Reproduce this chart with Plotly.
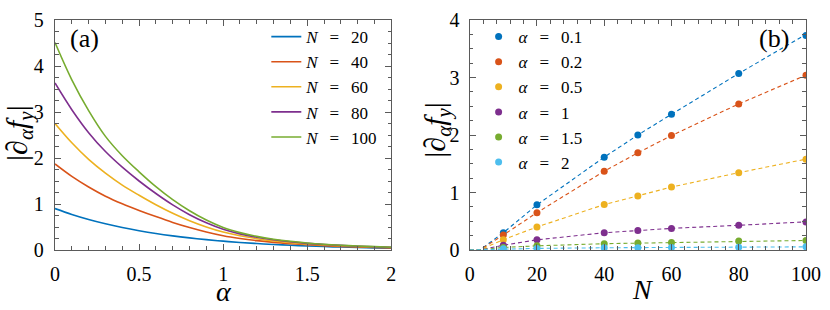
import plotly.graph_objects as go

# ---------------- Panel (a) data ----------------
alpha_grid = [0, 0.1, 0.2, 0.3, 0.4, 0.5, 0.6, 0.7, 0.8, 0.9, 1.0,
              1.1, 1.2, 1.3, 1.4, 1.5, 1.6, 1.7, 1.8, 1.9, 2.0]
N_labels = ["20", "40", "60", "80", "100"]
dfy_N20 = [0.90, 0.773, 0.664, 0.570, 0.49, 0.42, 0.359, 0.307, 0.263, 0.225, 0.192,
           0.164, 0.140, 0.120, 0.103, 0.088, 0.075, 0.064, 0.055, 0.047, 0.040]
dfy_N40 = [1.87, 1.60, 1.37, 1.17, 1.005, 0.86, 0.726, 0.600, 0.489, 0.392, 0.310,
           0.250, 0.203, 0.166, 0.137, 0.113, 0.094, 0.079, 0.066, 0.056, 0.047]
dfy_N60 = [2.75, 2.33, 1.97, 1.67, 1.41, 1.19, 0.984, 0.798, 0.637, 0.501, 0.390,
           0.308, 0.246, 0.198, 0.161, 0.133, 0.110, 0.092, 0.077, 0.065, 0.055]
dfy_N80 = [3.63, 3.05, 2.55, 2.14, 1.80, 1.50, 1.228, 0.981, 0.768, 0.592, 0.450,
           0.350, 0.277, 0.221, 0.178, 0.145, 0.120, 0.100, 0.083, 0.068, 0.056]
dfy_N100 = [4.51, 3.70, 3.03, 2.47, 2.05, 1.70, 1.378, 1.095, 0.853, 0.651, 0.490,
            0.378, 0.296, 0.235, 0.189, 0.153, 0.125, 0.104, 0.087, 0.073, 0.060]

# ---------------- Panel (b) data ----------------
N_points = [10, 20, 40, 50, 60, 80, 100]
alpha_labels = ["0.1", "0.2", "0.5", "1", "1.5", "2"]
dfy_a01 = [0.30, 0.785, 1.615, 2.00, 2.36, 3.07, 3.73]
dfy_a02 = [0.26, 0.65, 1.37, 1.69, 1.99, 2.54, 3.04]
dfy_a05 = [0.18, 0.40, 0.79, 0.94, 1.095, 1.345, 1.577]
dfy_a1 = [0.083, 0.177, 0.30, 0.337, 0.376, 0.43, 0.487]
dfy_a15 = [0.044, 0.072, 0.11, 0.12, 0.13, 0.155, 0.166]
dfy_a2 = [0.020, 0.028, 0.039, 0.041, 0.044, 0.050, 0.055]

fit_N = [0, 3, 10, 20, 40, 50, 60, 80, 100]
fit_a01 = [0, 0, 0.30, 0.785, 1.615, 2.00, 2.36, 3.07, 3.75]
fit_a02 = [0, 0, 0.26, 0.65, 1.37, 1.69, 1.99, 2.54, 3.04]
fit_a05 = [0, 0, 0.18, 0.40, 0.79, 0.94, 1.095, 1.345, 1.58]
fit_a1 = [0, 0, 0.083, 0.177, 0.30, 0.337, 0.376, 0.43, 0.49]
fit_a15 = [0, 0.005, 0.044, 0.072, 0.11, 0.12, 0.13, 0.155, 0.166]
fit_a2 = [0, 0.005, 0.020, 0.028, 0.039, 0.041, 0.044, 0.050, 0.055]

# ticks
xa_tickvals = [0, 0.5, 1, 1.5, 2]
xa_ticktext = ["0", "0.5", "1", "1.5", "2"]
ya_tickvals = [0, 1, 2, 3, 4, 5]
ya_ticktext = ["0", "1", "2", "3", "4", "5"]
xb_tickvals = [0, 20, 40, 60, 80, 100]
xb_ticktext = ["0", "20", "40", "60", "80", "100"]
yb_tickvals = [0, 1, 2, 3, 4]
yb_ticktext = ["0", "1", "2", "3", "4"]

colors = ["#0072BD", "#D95319", "#EDB120", "#7E2F8E", "#77AC30", "#4DBEEE"]
FONT = "Liberation Serif, Times New Roman, Times, DejaVu Serif, serif"
AX = "#5a5a5a"
SP = "\u2002\u2009"

fig = go.Figure()

for lab, ys, c in zip(N_labels, [dfy_N20, dfy_N40, dfy_N60, dfy_N80, dfy_N100], colors):
    fig.add_trace(go.Scatter(
        x=alpha_grid, y=ys, mode="lines", line=dict(color=c, width=1.6, shape="spline"),
        name="<i>N</i>" + SP + "=" + SP + lab, xaxis="x", yaxis="y", legend="legend"))

for lab, ys, fy, c in zip(alpha_labels,
                          [dfy_a01, dfy_a02, dfy_a05, dfy_a1, dfy_a15, dfy_a2],
                          [fit_a01, fit_a02, fit_a05, fit_a1, fit_a15, fit_a2], colors):
    fig.add_trace(go.Scatter(
        x=fit_N, y=fy, mode="lines", line=dict(color=c, width=1.1, dash="4px,3px"),
        showlegend=False, xaxis="x2", yaxis="y2", hoverinfo="skip"))
    fig.add_trace(go.Scatter(
        x=N_points, y=ys, mode="markers", marker=dict(color=c, size=7),
        name="<i>α</i>" + SP + "=" + SP + lab, xaxis="x2", yaxis="y2", legend="legend2"))

axis_common = dict(showline=True, linecolor=AX, linewidth=1.3, mirror="ticks",
                   ticks="inside", ticklen=6, tickwidth=1.1, tickcolor=AX,
                   showgrid=False, zeroline=False, ticklabeloverflow="allow",
                   tickfont=dict(family=FONT, size=20, color="black"))

fig.update_layout(
    width=830, height=310,
    margin=dict(l=55, r=18, t=9, b=60),
    paper_bgcolor="white", plot_bgcolor="white",
    font=dict(family=FONT, color="black"),
    xaxis=dict(domain=[0, 339 / 757], range=[0, 2], tickvals=xa_tickvals, ticktext=xa_ticktext,
               minor=dict(ticks="inside", ticklen=3.5, dtick=0.1, tickcolor=AX, tickwidth=1),
               anchor="y", ticklabelstandoff=6, **axis_common),
    yaxis=dict(domain=[0, 1], range=[0, 5], tickvals=ya_tickvals, ticktext=ya_ticktext,
               minor=dict(ticks="inside", ticklen=3.5, dtick=0.25, tickcolor=AX, tickwidth=1),
               anchor="x", ticklabelstandoff=6, **axis_common),
    xaxis2=dict(domain=[418 / 757, 1], range=[0, 100], tickvals=xb_tickvals, ticktext=xb_ticktext,
                minor=dict(ticks="inside", ticklen=3.5, dtick=4, tickcolor=AX, tickwidth=1),
                anchor="y2", ticklabelstandoff=6, **axis_common),
    yaxis2=dict(domain=[0, 1], range=[0, 4], tickvals=yb_tickvals, ticktext=yb_ticktext,
                minor=dict(ticks="inside", ticklen=3.5, dtick=0.25, tickcolor=AX, tickwidth=1),
                anchor="x2", ticklabelstandoff=5, **axis_common),
    legend=dict(x=(268 - 55) / 757, y=(250 - 8) / 241, xanchor="left", yanchor="top",
                bgcolor="rgba(0,0,0,0)", font=dict(family=FONT, size=17),
                tracegroupgap=0, itemwidth=30, maxheight=600),
    legend2=dict(x=(482 - 55) / 757, y=(250 - 8) / 241, xanchor="left", yanchor="top",
                 bgcolor="rgba(0,0,0,0)", font=dict(family=FONT, size=17),
                 tracegroupgap=0, itemwidth=30, maxheight=600),
    showlegend=True,
)

ylab = "|∂<sub><i>α</i></sub><i>f</i><sub><i>y</i></sub>|"
annotations = [
    dict(text="(a)", x=(85 - 55) / 757, y=(250 - 28) / 241, font=dict(size=26)),
    dict(text="(b)", x=(780 - 55) / 757, y=(250 - 28) / 241, font=dict(size=26)),
    dict(text=ylab, x=(18 - 55) / 757, y=(250 - 127) / 241, textangle=-90, font=dict(size=30)),
    dict(text=ylab, x=(440 - 55) / 757, y=(250 - 124) / 241, textangle=-90, font=dict(size=30)),
    dict(text="<i>α</i>", x=(225 - 55) / 757, y=(250 - 294) / 241, font=dict(size=28)),
    dict(text="<i>N</i>", x=(647 - 55) / 757, y=(250 - 291) / 241, font=dict(size=28)),
]
for a in annotations:
    a.update(xref="paper", yref="paper", showarrow=False, xanchor="center", yanchor="middle")
    a["font"].update(family=FONT, color="black")
fig.update_layout(annotations=annotations)

fig.write_html("out.html", config={"displayModeBar": False},
               post_script="document.body.style.margin='0';document.body.style.overflow='hidden';")
